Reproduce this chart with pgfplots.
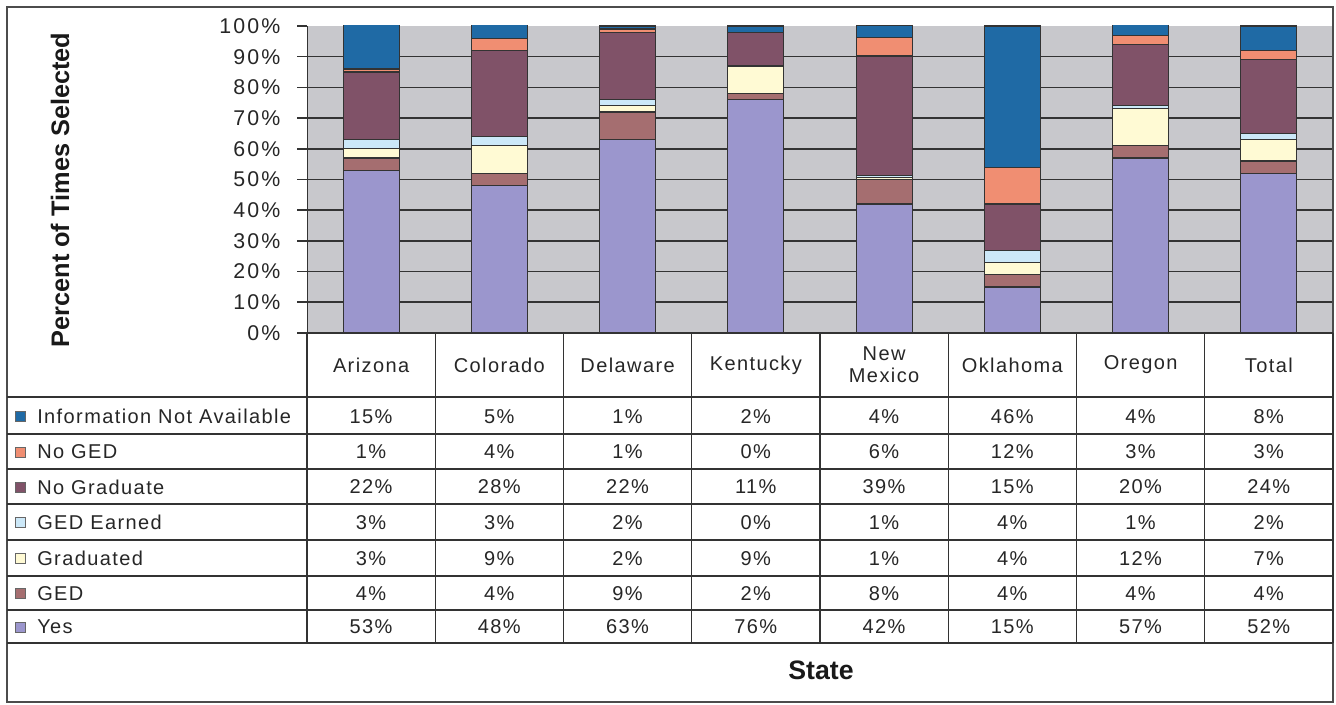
\documentclass[border=0pt]{standalone}
\usepackage{pgfplots}
\pgfplotsset{compat=1.18}
\usepackage{pgfplotstable}
\usepackage{fontspec}
\setmainfont{Liberation Sans}
\newfontfamily\tabfont[LetterSpace=7]{Liberation Sans}
\newfontfamily\tickfont[LetterSpace=10]{Liberation Sans}
\definecolor{cInfo}{HTML}{1F6AA5}
\definecolor{cNoGED}{HTML}{F08E72}
\definecolor{cNoGrad}{HTML}{805268}
\definecolor{cGEDE}{HTML}{CCE8F8}
\definecolor{cGrad}{HTML}{FFFAD4}
\definecolor{cGED}{HTML}{A56E70}
\definecolor{cYes}{HTML}{9B96CD}
\definecolor{cBg}{HTML}{C8C8CC}
\definecolor{cLine}{HTML}{333333}

\pgfplotstableread{
state Yes GED Grad GEDE NoGrad NoGED Info
Arizona 53 4 3 3 22 1 15
Colorado 48 4 9 3 28 4 5
Delaware 63 9 2 2 22 1 1
Kentucky 76 2 9 0 11 0 2
NewMexico 42 8 0.6 0.6 39 6 4
Oklahoma 15 4 4 4 15 12 46
Oregon 57 4 12 1 20 3 4
Total 52 4 7 2 24 3 8
}\datatable

\begin{document}
\begin{tikzpicture}
\begin{axis}[
  at={(230.25pt,-249.75pt)}, anchor=south west,
  scale only axis, width=769.5pt, height=230.25pt,
  ybar stacked, bar width=42pt,
  xmin=-0.5, xmax=7.5, ymin=0, ymax=100,
  xtick=\empty,
  ytick={0,10,...,100},
  yticklabels={0\%,10\%,20\%,30\%,40\%,50\%,60\%,70\%,80\%,90\%,100\%},
  minor ytick={10,20,...,90},
  yminorgrids=true,
  minor grid style={cLine, line width=1.2pt},
  minor tick length=0pt,
  major tick length=7.5pt, tick align=outside, ytick pos=left,
  major tick style={cLine, line width=1.2pt},
  yticklabel style={font=\fontsize{16}{18}\selectfont\tickfont, text=black!85, xshift=-9pt},
  axis line style={draw=none},
  axis background/.style={fill=cBg},
  every axis plot/.append style={draw=cLine, line width=0.9pt},
]
\addplot[fill=cYes] table[x expr=\coordindex, y=Yes]{\datatable};
\addplot[fill=cGED] table[x expr=\coordindex, y=GED]{\datatable};
\addplot[fill=cGrad] table[x expr=\coordindex, y=Grad]{\datatable};
\addplot[fill=cGEDE] table[x expr=\coordindex, y=GEDE]{\datatable};
\addplot[fill=cNoGrad] table[x expr=\coordindex, y=NoGrad]{\datatable};
\addplot[fill=cNoGED] table[x expr=\coordindex, y=NoGED]{\datatable};
\addplot[fill=cInfo] table[x expr=\coordindex, y=Info]{\datatable};
\draw[cLine, line width=1.2pt] (rel axis cs:0,0) -- (rel axis cs:0,1);
\end{axis}
\begin{scope}[x=0.75pt,y=-0.75pt]
  % outer frame
  \draw[black!70, line width=1.2pt] (7,7) rectangle (1333,702);
  % table horizontal lines
  \draw[cLine, line width=1.1pt] (307,333) -- (1333,333);
  \foreach \yy in {397,434,469,504,540,576,610,643}
    \draw[cLine, line width=1.1pt] (7,\yy) -- (1333,\yy);
  % table vertical lines
  \foreach \k in {0,...,8}
    \draw[cLine, line width=1.1pt] ({307+128.25*\k},333) -- ({307+128.25*\k},643);
  % column headers
  \foreach \name [count=\c from 0] in {Arizona,Colorado,Delaware,Kentucky,{New\\Mexico},Oklahoma,Oregon,Total}
    \node[font=\fontsize{15}{16.5}\selectfont\tabfont, text=black!85, align=center] at ({307+128.25*(\c+0.5)},365) {\name};
  % row legend labels
  \foreach \lab/\col/\yy in {Information Not Available/cInfo/416.5, No GED/cNoGED/452, No Graduate/cNoGrad/487, GED Earned/cGEDE/522.5, Graduated/cGrad/558.5, GED/cGED/593.5, Yes/cYes/627}{
    \draw[fill=\col, draw=black!60, line width=0.6pt] (15,\yy-5) rectangle (25,\yy+5);
    \node[font=\fontsize{15}{16.5}\selectfont\tabfont, text=black!85, anchor=west, inner sep=0pt] at (37,\yy) {\lab};
  }
  % values
  \foreach \v [count=\c from 0] in {15,5,1,2,4,46,4,8}
    \node[font=\fontsize{15}{16.5}\selectfont\tabfont, text=black!85] at ({307+128.25*(\c+0.5)},416.5) {\v\%};
  \foreach \v [count=\c from 0] in {1,4,1,0,6,12,3,3}
    \node[font=\fontsize{15}{16.5}\selectfont\tabfont, text=black!85] at ({307+128.25*(\c+0.5)},452) {\v\%};
  \foreach \v [count=\c from 0] in {22,28,22,11,39,15,20,24}
    \node[font=\fontsize{15}{16.5}\selectfont\tabfont, text=black!85] at ({307+128.25*(\c+0.5)},487) {\v\%};
  \foreach \v [count=\c from 0] in {3,3,2,0,1,4,1,2}
    \node[font=\fontsize{15}{16.5}\selectfont\tabfont, text=black!85] at ({307+128.25*(\c+0.5)},522.5) {\v\%};
  \foreach \v [count=\c from 0] in {3,9,2,9,1,4,12,7}
    \node[font=\fontsize{15}{16.5}\selectfont\tabfont, text=black!85] at ({307+128.25*(\c+0.5)},558.5) {\v\%};
  \foreach \v [count=\c from 0] in {4,4,9,2,8,4,4,4}
    \node[font=\fontsize{15}{16.5}\selectfont\tabfont, text=black!85] at ({307+128.25*(\c+0.5)},593.5) {\v\%};
  \foreach \v [count=\c from 0] in {53,48,63,76,42,15,57,52}
    \node[font=\fontsize{15}{16.5}\selectfont\tabfont, text=black!85] at ({307+128.25*(\c+0.5)},627) {\v\%};
  % axis titles
  \node[font=\fontsize{19}{22}\selectfont\bfseries, rotate=90, text=black!90] at (60,190) {Percent of Times Selected};
  \node[font=\fontsize{20}{22}\selectfont\bfseries, text=black!90] at (821,670) {State};
\end{scope}
\pgfresetboundingbox
\path[use as bounding box] (0,0) rectangle (1002pt,-528.75pt);
\end{tikzpicture}
\end{document}
